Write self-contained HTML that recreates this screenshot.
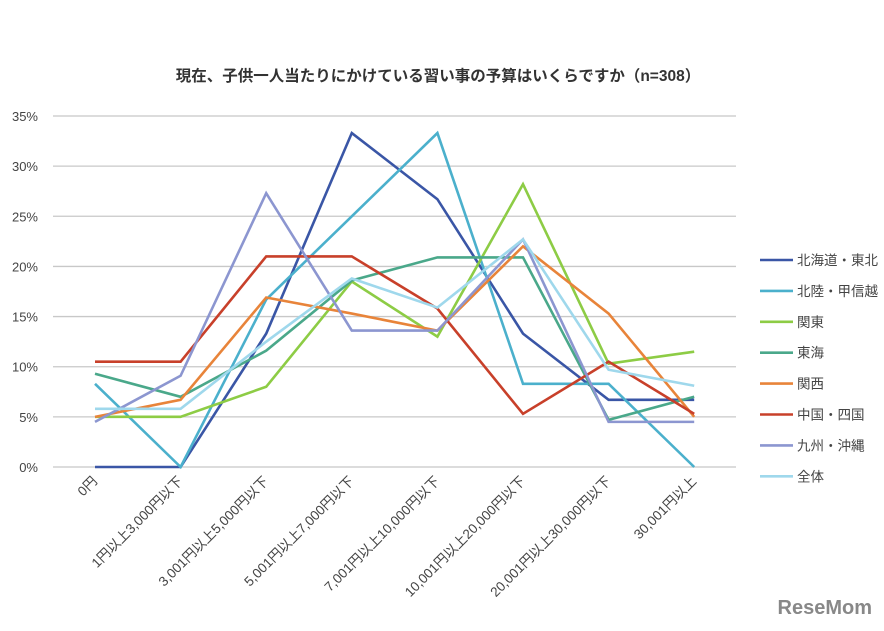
<!DOCTYPE html>
<html><head><meta charset="utf-8"><style>
body{margin:0;background:#fff;width:884px;height:631px;overflow:hidden;font-family:"Liberation Sans","Noto Sans CJK JP",sans-serif}
</style></head><body>
<svg id="c" width="884" height="631" style="position:absolute;left:0;top:0">
<text x="438" y="81" text-anchor="middle" font-size="15.5" font-weight="bold" fill="#333">現在、子供一人当たりにかけている習い事の予算はいくらですか（n=308）</text>
<g id="grid"></g><g id="lines"></g><g id="legend"></g>
<text x="872" y="614" text-anchor="end" font-size="20" font-weight="bold" fill="#888">ReseMom</text>
</svg>
<script>
const categories=["0円","1円以上3,000円以下","3,001円以上5,000円以下","5,001円以上7,000円以下","7,001円以上10,000円以下","10,001円以上20,000円以下","20,001円以上30,000円以下","30,001円以上"];
const yTicks=[0,5,10,15,20,25,30,35];
const seriesNames=["北海道・東北","北陸・甲信越","関東","東海","関西","中国・四国","九州・沖縄","全体"];
const sHokkaido=[0,0,13.3,33.3,26.7,13.3,6.7,6.7];
const sHokuriku=[8.3,0,16.7,25,33.3,8.3,8.3,0];
const sKanto=[5,5,8,18.5,13,28.2,10.3,11.5];
const sTokai=[9.3,7,11.6,18.6,20.9,20.9,4.7,7];
const sKansai=[5,6.7,16.9,15.3,13.6,22,15.3,5];
const sChugoku=[10.5,10.5,21,21,15.8,5.3,10.5,5.3];
const sKyushu=[4.5,9.1,27.3,13.6,13.6,22.7,4.5,4.5];
const sAll=[5.8,5.8,12.5,18.8,15.9,22.7,9.7,8.1];
const series=[sHokkaido,sHokuriku,sKanto,sTokai,sKansai,sChugoku,sKyushu,sAll];
const colors=["#3a56a6","#4bb0cc","#8dcc45","#4aa88a","#e8843a","#c8402a","#8c96d0","#9fd8ec"];
const NS="http://www.w3.org/2000/svg";
const x=i=>95+i*85.6, y=v=>467-v*351/35;
function mk(t,a,p){const e=document.createElementNS(NS,t);for(const k in a)e.setAttribute(k,a[k]);p.appendChild(e);return e;}
const g=document.getElementById('grid');
yTicks.forEach(t=>{
 const l=mk('line',{x1:53,x2:736,y1:y(t),y2:y(t),stroke:'#c8c8c8','stroke-width':1.3},g);
 
 
 const tx=mk('text',{x:38,y:y(t)+5,'text-anchor':'end','font-size':13,fill:'#444'},g);tx.textContent=t+'%';
 
 
});
categories.forEach((c,i)=>{
 const tx=mk('text',{x:x(i)+3,y:482,'text-anchor':'end','font-size':13.5,fill:'#444',transform:`rotate(-45 ${x(i)+3} 482)`},g);tx.textContent=c;
 
 
});
const L=document.getElementById('lines');
series.forEach((s,k)=>{
 const p=mk('polyline',{points:s.map((v,i)=>x(i)+','+y(v)).join(' '),fill:'none',stroke:colors[k],'stroke-width':2.6,'stroke-linejoin':'miter'},L);
 
 
});
const lg=document.getElementById('legend');
seriesNames.forEach((n,k)=>{
 const yy=260+k*30.9;
 const e=mk('line',{x1:760,x2:793,y1:yy,y2:yy,stroke:colors[k],'stroke-width':2.6},lg);
 
 
 const t=mk('text',{x:797,y:yy+5,'font-size':13.5,fill:'#444'},lg);t.textContent=n;
 
 
});
</script>
</body></html>
